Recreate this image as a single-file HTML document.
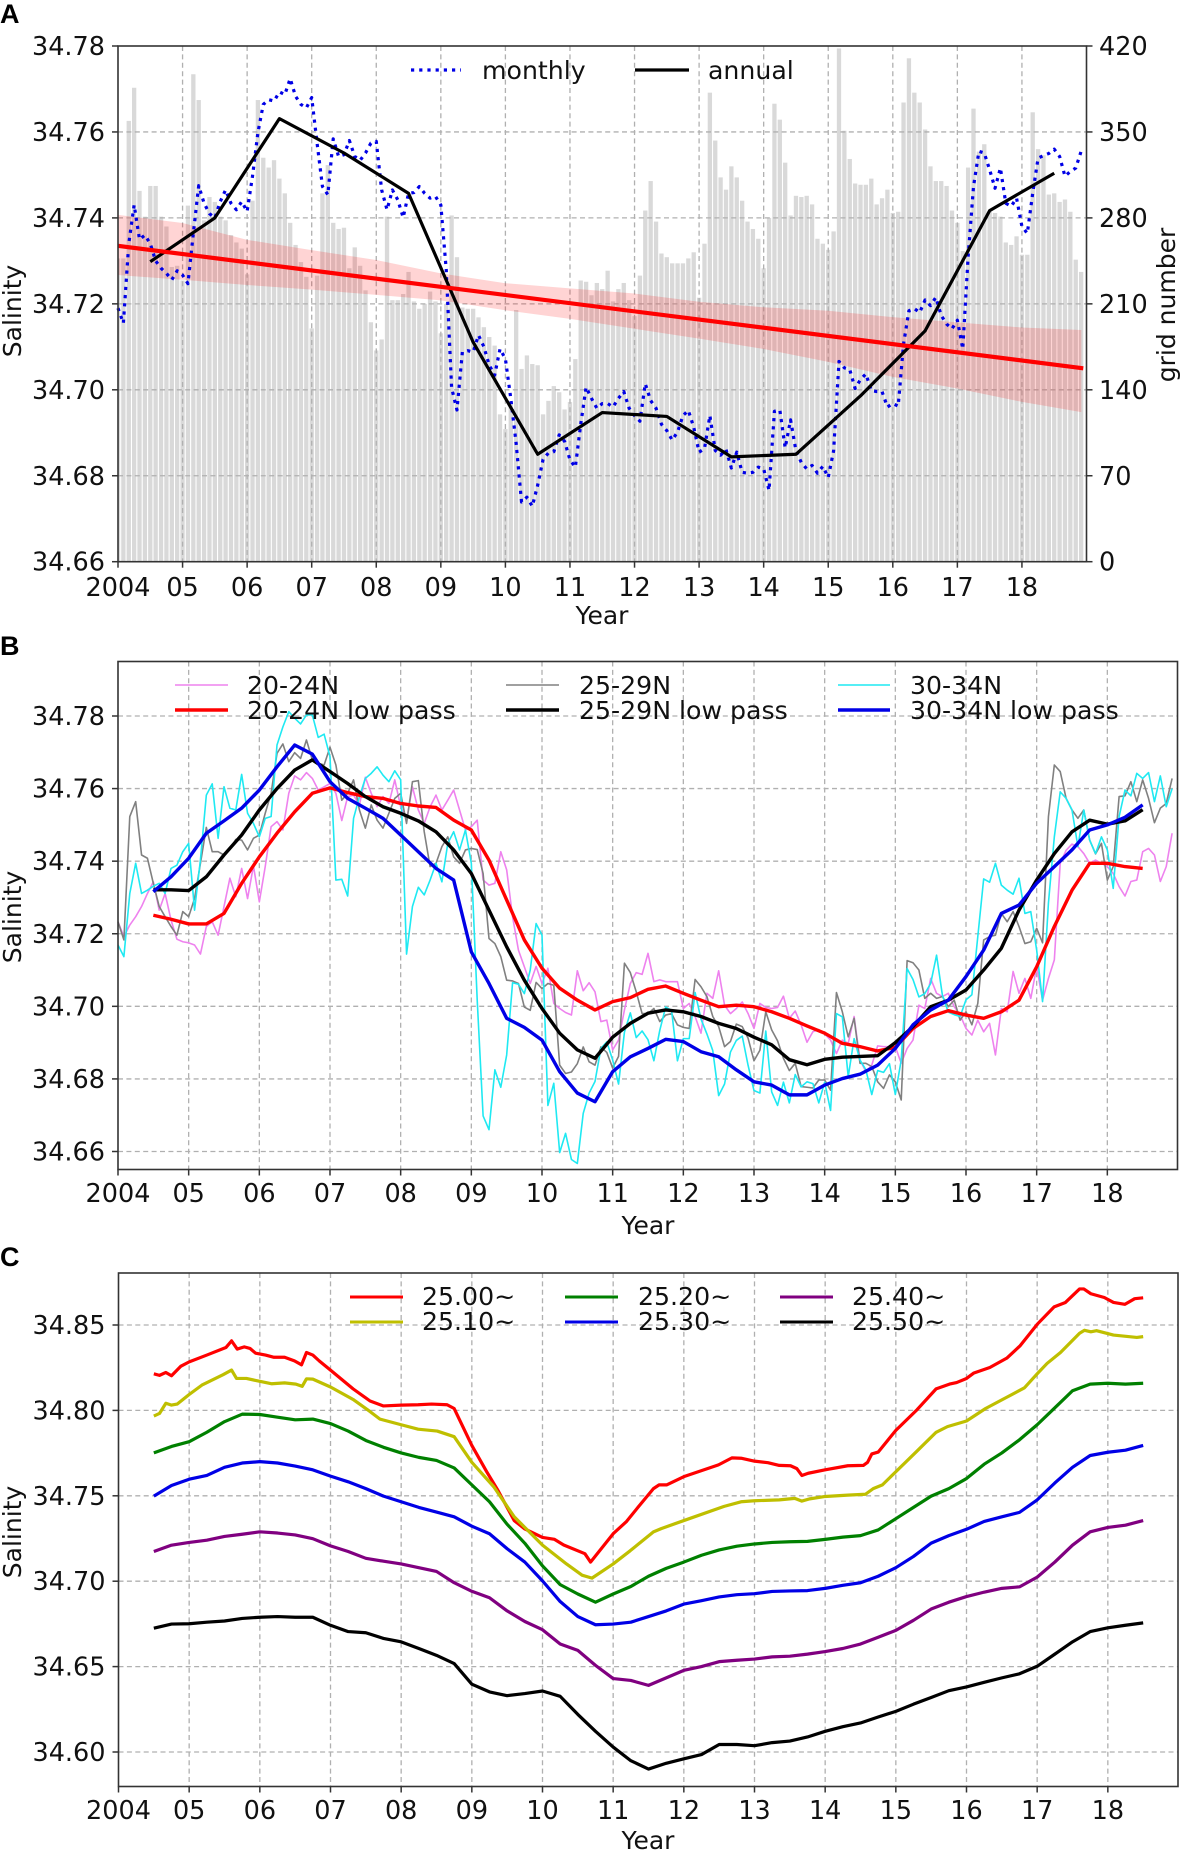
<!DOCTYPE html>
<html lang="en">
<head>
<meta charset="utf-8">
<title>Salinity time series</title>
<style>
html,body{margin:0;padding:0;background:#fff;}
svg{display:block;}
text{font-family:"DejaVu Sans","Liberation Sans",sans-serif;fill:#111;}
.panel-letter{font-family:"Liberation Sans",sans-serif;font-weight:bold;font-size:27px;fill:#000;}
.tick{font-size:25.5px;}
.title{font-size:25px;}
.leg{font-size:25.2px;}
</style>
</head>
<body>
<svg id="chart" xmlns="http://www.w3.org/2000/svg" width="1181" height="1851" viewBox="0 0 1181 1851">
<rect x="0" y="0" width="1181" height="1851" fill="#fff"/>
<defs>
<clipPath id="clipA"><rect x="118" y="46" width="968.5" height="515.7"/></clipPath>
</defs>

<text class="panel-letter" x="0" y="23">A</text>
<text class="panel-letter" x="0" y="655">B</text>
<text class="panel-letter" x="0" y="1266">C</text>

<g id="panelA"></g>
<g id="panelB"></g>
<g id="panelC"></g>

<!-- Panel A titles and legend -->
<text class="title" x="602" y="624" text-anchor="middle">Year</text>
<text class="title" transform="translate(21,311) rotate(-90)" text-anchor="middle">Salinity</text>
<text class="title" transform="translate(1175,305) rotate(-90)" text-anchor="middle">grid number</text>
<g>
<line x1="411" y1="70" x2="461" y2="70" stroke="#0000e6" stroke-width="3.2" stroke-dasharray="3.2 5"/>
<text class="leg" x="482" y="79">monthly</text>
<line x1="635" y1="70" x2="689" y2="70" stroke="#000" stroke-width="3.2"/>
<text class="leg" x="708" y="79">annual</text>
</g>

<!-- Panel B titles and legend -->
<text class="title" x="648" y="1234" text-anchor="middle">Year</text>
<text class="title" transform="translate(21,917) rotate(-90)" text-anchor="middle">Salinity</text>
<g>
<line x1="175" y1="685" x2="228" y2="685" stroke="#ee82ee" stroke-width="1.6"/>
<text class="leg" x="247" y="694">20-24N</text>
<line x1="175" y1="710" x2="228" y2="710" stroke="#f00" stroke-width="3.4"/>
<text class="leg" x="247" y="719">20-24N low pass</text>
<line x1="506" y1="685" x2="559" y2="685" stroke="#808080" stroke-width="1.6"/>
<text class="leg" x="579" y="694">25-29N</text>
<line x1="506" y1="710" x2="559" y2="710" stroke="#000" stroke-width="3.4"/>
<text class="leg" x="579" y="719">25-29N low pass</text>
<line x1="838" y1="685" x2="890" y2="685" stroke="#1fe9f2" stroke-width="1.6"/>
<text class="leg" x="910" y="694">30-34N</text>
<line x1="838" y1="710" x2="890" y2="710" stroke="#0000e6" stroke-width="3.4"/>
<text class="leg" x="910" y="719">30-34N low pass</text>
</g>

<!-- Panel C titles and legend -->
<text class="title" x="648" y="1849" text-anchor="middle">Year</text>
<text class="title" transform="translate(21,1532) rotate(-90)" text-anchor="middle">Salinity</text>
<g>
<line x1="350" y1="1297" x2="403" y2="1297" stroke="#f00" stroke-width="3"/>
<text class="leg" x="422" y="1305">25.00~</text>
<line x1="350" y1="1322" x2="403" y2="1322" stroke="#bfbf00" stroke-width="3"/>
<text class="leg" x="422" y="1330">25.10~</text>
<line x1="565" y1="1297" x2="618" y2="1297" stroke="#008000" stroke-width="3"/>
<text class="leg" x="638" y="1305">25.20~</text>
<line x1="565" y1="1322" x2="618" y2="1322" stroke="#0000e6" stroke-width="3"/>
<text class="leg" x="638" y="1330">25.30~</text>
<line x1="780" y1="1297" x2="833" y2="1297" stroke="#800080" stroke-width="3"/>
<text class="leg" x="852" y="1305">25.40~</text>
<line x1="780" y1="1322" x2="833" y2="1322" stroke="#000" stroke-width="3"/>
<text class="leg" x="852" y="1330">25.50~</text>
</g>
</svg>

<script>
/* ---------- shared tick labels ---------- */
const tickYears = [2004,2005,2006,2007,2008,2009,2010,2011,2012,2013,2014,2015,2016,2017,2018];
const tickYearLabels = ["2004","05","06","07","08","09","10","11","12","13","14","15","16","17","18"];

/* ---------- panel A data ---------- */
const ticksA = [34.66,34.68,34.70,34.72,34.74,34.76,34.78];
const ticksGrid = [0,70,140,210,280,350,420];
const gridNumber = [
247,247,359,386,302,281,306,306,281,273,240,241,
229,290,397,376,278,297,293,281,278,266,260,255,
234,294,376,329,321,327,312,300,276,258,244,232,
190,233,300,323,276,271,272,239,256,241,221,195,
172,181,281,213,213,218,236,212,206,210,220,212,
186,210,282,248,207,206,206,199,191,183,176,120,
108,130,205,157,168,161,160,120,131,143,138,124,
130,165,229,228,217,227,222,237,212,222,227,213,
200,233,286,310,277,251,248,243,243,243,247,252,
215,259,382,343,313,303,322,313,294,277,271,263,
239,280,373,360,325,282,298,297,298,291,263,259,
254,269,418,351,328,308,307,307,312,291,296,303,
284,285,374,410,382,374,352,322,310,310,306,286,
276,253,321,369,334,340,285,284,281,260,258,265,
250,250,366,336,331,299,300,293,295,285,246,236];
const monthlySalinity = [
34.719,34.7155,34.734,34.743,34.735,34.736,34.734,34.730,34.7283,34.7271,34.7256,34.7277,
34.7267,34.7247,34.7364,34.7475,34.7434,34.741,34.740,34.7438,34.7465,34.7434,34.7419,34.7438,
34.7415,34.7497,34.7598,34.7664,34.7675,34.7672,34.7693,34.7687,34.7724,34.7683,34.7664,34.7656,
34.768,34.7574,34.7473,34.7454,34.7584,34.7543,34.7547,34.758,34.7543,34.7534,34.7551,34.7574,
34.7578,34.7465,34.7419,34.7465,34.7442,34.7401,34.7457,34.7459,34.7473,34.7457,34.7446,34.745,
34.743,34.728,34.7005,34.6953,34.7088,34.7091,34.7088,34.7127,34.71,34.7057,34.7034,34.7095,
34.7072,34.698,34.6875,34.6739,34.675,34.6729,34.6778,34.6838,34.6853,34.6856,34.6895,34.688,
34.6837,34.682,34.692,34.7006,34.698,34.6957,34.6968,34.6968,34.696,34.698,34.6996,34.6957,
34.694,34.6927,34.7014,34.6975,34.6957,34.692,34.6905,34.6883,34.6902,34.694,34.6952,34.6913,
34.6855,34.6863,34.694,34.6859,34.6848,34.6861,34.6818,34.6855,34.6808,34.6806,34.6808,34.682,
34.6816,34.6766,34.695,34.6953,34.6865,34.693,34.6858,34.6831,34.6816,34.6824,34.6806,34.6822,
34.6796,34.6858,34.7066,34.7051,34.7047,34.7003,34.7024,34.7037,34.6998,34.6996,34.6996,34.696,
34.6968,34.6962,34.7107,34.7184,34.7189,34.718,34.7209,34.7196,34.7215,34.7173,34.7153,34.7142,
34.7162,34.7095,34.731,34.7473,34.7555,34.7551,34.7512,34.7469,34.7516,34.7434,34.7427,34.7446,
34.738,34.7364,34.7457,34.7539,34.7545,34.755,34.756,34.7543,34.7497,34.7508,34.7516,34.7555];
const annualYears = [2004.5,2005.5,2006.5,2007.5,2008.5,2009.5,2010.5,2011.5,2012.5,2013.5,2014.5,2015.5,2016.5,2017.5,2018.5];
const annualSalinity = [34.7298,34.74,34.7631,34.7551,34.7457,34.7111,34.685,34.6947,34.6938,34.6844,34.685,34.6986,34.7137,34.7417,34.7504];
const trendYears = [2004,2018.95];
const trendSalinity = [34.7335,34.705];
const bandYears = [2004,2005,2006,2007,2008,2009,2010,2011,2012,2013,2014,2015,2016,2017,2018,2018.92];
const bandUpper = [34.7407,34.7388,34.7349,34.7325,34.7302,34.7271,34.7248,34.7236,34.7224,34.7205,34.7192,34.7184,34.7169,34.7157,34.7145,34.7139];
const bandLower = [34.7267,34.7256,34.7244,34.7233,34.7221,34.7208,34.7185,34.7165,34.7142,34.7119,34.7095,34.7065,34.703,34.7003,34.6972,34.6948];

/* ---------- panel B data ---------- */
const ticksB = [34.66,34.68,34.70,34.72,34.74,34.76,34.78];
const raw2024 = [
34.7233,34.7192,34.7224,34.7247,34.7275,34.7311,34.7343,34.7265,34.7311,34.7238,34.7185,34.7178,
34.7175,34.7169,34.7144,34.722,34.7233,34.7196,34.7275,34.7353,34.7302,34.738,34.7297,34.7387,
34.7288,34.7385,34.7495,34.7509,34.7486,34.7587,34.7635,34.7624,34.7644,34.7628,34.7596,34.7605,
34.7614,34.7587,34.7512,34.7578,34.7582,34.7555,34.7631,34.7587,34.755,34.7578,34.7559,34.7624,
34.755,34.7513,34.7605,34.7541,34.7504,34.755,34.7582,34.7541,34.7568,34.7596,34.7541,34.7486,
34.7495,34.7513,34.7348,34.7334,34.7339,34.7426,34.7376,34.7247,34.7155,34.7109,34.7063,34.711,
34.7063,34.7105,34.7008,34.6994,34.6983,34.6976,34.7098,34.7043,34.7065,34.704,34.6958,34.6962,
34.688,34.6907,34.699,34.7063,34.7093,34.7088,34.7146,34.7068,34.7073,34.7068,34.7068,34.7068,
34.6994,34.7008,34.6972,34.6926,34.7036,34.7022,34.7098,34.7003,34.698,34.6994,34.7012,34.698,
34.6939,34.7008,34.6997,34.6994,34.6997,34.7028,34.6967,34.6987,34.6949,34.6901,34.693,34.6936,
34.6924,34.6907,34.687,34.6907,34.6898,34.6972,34.6852,34.682,34.6838,34.6891,34.6889,34.6889,
34.6889,34.6843,34.6884,34.6907,34.7003,34.6994,34.7077,34.7036,34.7027,34.7036,34.6999,34.6976,
34.6939,34.6921,34.6962,34.693,34.6953,34.6866,34.6994,34.6985,34.7096,34.7036,34.7077,34.7022,
34.7109,34.7017,34.7077,34.7128,34.7394,34.743,34.7447,34.744,34.7421,34.7394,34.7403,34.7394,
34.7385,34.7366,34.733,34.7304,34.7344,34.7348,34.7426,34.7435,34.7417,34.7344,34.7385,34.7477];
const raw2529 = [
34.7233,34.7183,34.7523,34.7564,34.7417,34.7408,34.7339,34.7275,34.7247,34.722,34.7196,34.7261,
34.7247,34.7297,34.7394,34.7493,34.7426,34.7426,34.7417,34.7432,34.746,34.7458,34.7431,34.7463,
34.7472,34.7532,34.7587,34.7697,34.7723,34.7674,34.7699,34.7683,34.7734,34.7679,34.767,34.7665,
34.7714,34.7665,34.7568,34.7587,34.7624,34.7541,34.7491,34.7555,34.7513,34.7491,34.7532,34.7573,
34.7587,34.7504,34.7619,34.7622,34.7481,34.7385,34.7394,34.744,34.7467,34.7412,34.7394,34.7431,
34.7435,34.7432,34.7366,34.7187,34.7173,34.7137,34.7072,34.707,34.7063,34.6998,34.6989,34.7066,
34.7049,34.7063,34.7058,34.6838,34.6815,34.6819,34.6842,34.6888,34.6847,34.6838,34.6888,34.6873,
34.683,34.6862,34.7119,34.7093,34.704,34.698,34.698,34.6994,34.6958,34.6976,34.698,34.6949,
34.6942,34.6939,34.7074,34.7054,34.7027,34.6972,34.6944,34.6889,34.6903,34.6951,34.6944,34.6912,
34.685,34.6879,34.6985,34.6935,34.6905,34.6857,34.6823,34.6843,34.6779,34.6777,34.6775,34.6797,
34.6797,34.6769,34.7038,34.6985,34.6916,34.6967,34.6843,34.6843,34.6834,34.6792,34.6774,34.6811,
34.6792,34.6742,34.7126,34.712,34.71,34.7022,34.7036,34.7022,34.7027,34.6999,34.7017,34.6962,
34.6985,34.6949,34.7008,34.7183,34.7192,34.7196,34.7256,34.7233,34.7261,34.722,34.7173,34.7178,
34.7215,34.7175,34.7523,34.7665,34.7647,34.7573,34.7541,34.7518,34.7541,34.7458,34.742,34.7449,
34.7348,34.7385,34.7578,34.758,34.7619,34.7564,34.7624,34.7573,34.7506,34.7546,34.7559,34.7628];
const raw3034 = [
34.7169,34.7137,34.7311,34.7394,34.7311,34.732,34.7331,34.7339,34.7311,34.738,34.7389,34.7426,
34.7449,34.7265,34.7404,34.7582,34.7613,34.7463,34.7605,34.7546,34.7541,34.7639,34.7532,34.7504,
34.7467,34.7518,34.7523,34.772,34.777,34.7812,34.7794,34.7778,34.7803,34.7803,34.7741,34.775,
34.7688,34.7348,34.735,34.7304,34.7518,34.7578,34.7628,34.7642,34.766,34.7637,34.7619,34.7649,
34.7624,34.7144,34.7275,34.7328,34.7307,34.7348,34.7394,34.7343,34.7449,34.7481,34.7431,34.7486,
34.7394,34.7017,34.6698,34.666,34.6825,34.6777,34.6866,34.7065,34.7061,34.7035,34.71,34.7228,
34.7196,34.6727,34.6788,34.6597,34.665,34.6578,34.6567,34.6705,34.6761,34.6793,34.6884,34.6902,
34.6852,34.6786,34.6929,34.6982,34.6914,34.6932,34.6908,34.685,34.6934,34.6998,34.6989,34.685,
34.6911,34.6911,34.7038,34.6965,34.6924,34.6878,34.6754,34.6786,34.6874,34.6906,34.6918,34.6837,
34.6768,34.6761,34.6932,34.6764,34.6727,34.6791,34.6734,34.6812,34.6778,34.6792,34.6787,34.6734,
34.6791,34.6713,34.698,34.6971,34.6806,34.6911,34.6852,34.6825,34.6757,34.6823,34.6818,34.6842,
34.6757,34.6852,34.7104,34.7074,34.7026,34.7035,34.7063,34.7141,34.703,34.6984,34.6977,34.6972,
34.7018,34.7032,34.7192,34.7351,34.7342,34.7394,34.7334,34.732,34.7309,34.7353,34.7256,34.7261,
34.7155,34.7013,34.7285,34.7467,34.7591,34.7573,34.7541,34.744,34.7541,34.7458,34.7421,34.7467,
34.7431,34.7325,34.7523,34.7596,34.758,34.7642,34.7628,34.7644,34.7564,34.7635,34.755,34.76];
const lowPass2024 = [34.7251,34.724,34.7227,34.7227,34.7256,34.7339,34.7412,34.7477,34.7536,34.7587,34.7602,34.7589,34.7578,34.7573,34.7559,34.7552,34.7548,34.7513,34.7486,34.7403,34.7293,34.7183,34.7105,34.705,34.7017,34.699,34.7013,34.7024,34.7047,34.7056,34.7036,34.7017,34.6999,34.7003,34.6999,34.6985,34.6967,34.6946,34.6926,34.6898,34.6889,34.6877,34.6887,34.6939,34.6972,34.6988,34.6976,34.6967,34.6985,34.7017,34.7109,34.722,34.732,34.7394,34.7394,34.7385,34.738];
const lowPass2529 = [34.7321,34.7321,34.7319,34.7357,34.7417,34.7472,34.7541,34.76,34.7651,34.7679,34.7647,34.7614,34.7578,34.755,34.7532,34.7511,34.7481,34.7431,34.7366,34.7265,34.7164,34.7072,34.6994,34.6926,34.688,34.6857,34.6915,34.6953,34.6981,34.699,34.6985,34.6972,34.6953,34.6939,34.6915,34.6894,34.6853,34.6839,34.6854,34.686,34.6862,34.6864,34.69,34.6944,34.6999,34.7017,34.7045,34.71,34.716,34.7265,34.7348,34.7421,34.7481,34.7513,34.7502,34.7511,34.7542];
const lowPass3034 = [34.7316,34.7357,34.7408,34.7477,34.7511,34.7546,34.7596,34.766,34.772,34.7695,34.7619,34.7573,34.7546,34.7518,34.7472,34.7426,34.738,34.7348,34.715,34.7063,34.6967,34.6942,34.6907,34.682,34.6761,34.6737,34.682,34.6861,34.6884,34.6909,34.6903,34.6875,34.6861,34.6825,34.6792,34.6783,34.6756,34.6756,34.6783,34.6801,34.6813,34.6838,34.6884,34.6949,34.699,34.7017,34.7082,34.7155,34.7256,34.7279,34.7339,34.7385,34.7431,34.7486,34.75,34.7521,34.7555];

/* ---------- panel C data ---------- */
const ticksC = [34.60,34.65,34.70,34.75,34.80,34.85];
const isoRedYears = [2004.5,2004.58,2004.67,2004.75,2004.88,2005,2005.25,2005.52,2005.6,2005.68,2005.78,2005.86,2005.94,2006.08,2006.2,2006.35,2006.49,2006.59,2006.66,2006.75,2006.84,2007,2007.32,2007.56,2007.75,2008,2008.24,2008.43,2008.65,2008.75,2009,2009.21,2009.37,2009.6,2009.75,2010,2010.17,2010.3,2010.6,2010.68,2011,2011.19,2011.35,2011.57,2011.65,2011.76,2012,2012.49,2012.68,2012.81,2013,2013.19,2013.35,2013.51,2013.6,2013.67,2013.76,2014,2014.32,2014.54,2014.6,2014.66,2014.75,2015,2015.3,2015.57,2015.76,2015.86,2016,2016.1,2016.33,2016.57,2016.76,2017,2017.24,2017.4,2017.6,2017.66,2017.76,2017.95,2018.08,2018.24,2018.38,2018.5];
const iso2500 = [34.8214,34.8205,34.8222,34.8203,34.8258,34.8284,34.8324,34.8368,34.8407,34.8359,34.8372,34.8363,34.8335,34.8324,34.8311,34.8311,34.829,34.8267,34.8339,34.8324,34.829,34.8236,34.8126,34.8055,34.8026,34.8031,34.8033,34.8037,34.8033,34.8011,34.7795,34.7641,34.7531,34.7355,34.7306,34.7256,34.7245,34.7212,34.7161,34.7112,34.7278,34.735,34.7432,34.7542,34.7564,34.7564,34.7612,34.7681,34.7722,34.772,34.7703,34.7694,34.7678,34.7676,34.7659,34.7619,34.7632,34.7652,34.7676,34.7678,34.7696,34.7745,34.7756,34.7883,34.8004,34.8126,34.8154,34.8163,34.8187,34.8218,34.8251,34.8306,34.8379,34.8504,34.8606,34.8632,34.8711,34.8711,34.8683,34.8661,34.8632,34.8621,34.8654,34.8659];
const isoYellowYears = [2004.5,2004.58,2004.67,2004.75,2004.83,2005,2005.18,2005.48,2005.6,2005.67,2005.81,2006,2006.17,2006.35,2006.51,2006.6,2006.66,2006.75,2007,2007.32,2007.56,2007.7,2008,2008.24,2008.51,2008.75,2009,2009.31,2009.6,2010,2010.34,2010.56,2010.7,2011,2011.24,2011.57,2011.68,2012,2012.57,2012.81,2013,2013.35,2013.57,2013.67,2013.78,2014,2014.32,2014.57,2014.68,2014.81,2015,2015.3,2015.57,2015.73,2016,2016.27,2016.57,2016.82,2017,2017.14,2017.33,2017.6,2017.67,2017.76,2017.84,2018.08,2018.41,2018.5];
const iso2510 = [34.7967,34.7982,34.8042,34.8031,34.8037,34.8093,34.8148,34.8209,34.8236,34.8187,34.8187,34.817,34.8156,34.8161,34.8154,34.8141,34.8185,34.8183,34.8137,34.8064,34.7993,34.7949,34.7916,34.789,34.7879,34.7846,34.7696,34.7553,34.7377,34.7211,34.7101,34.7035,34.7018,34.7101,34.7178,34.7289,34.7308,34.7355,34.7438,34.7465,34.7471,34.7476,34.7485,34.7469,34.7482,34.7496,34.7504,34.7509,34.7542,34.7564,34.7641,34.7762,34.7872,34.7905,34.7938,34.8011,34.8077,34.8132,34.8214,34.8275,34.8339,34.8452,34.8469,34.846,34.8467,34.8441,34.8427,34.8432];
const iso2520 = [34.7751,34.7789,34.7817,34.7872,34.7934,34.7978,34.7976,34.796,34.7945,34.7949,34.7923,34.7879,34.7824,34.7784,34.7751,34.7725,34.7707,34.7663,34.7564,34.7465,34.7333,34.7222,34.709,34.698,34.6925,34.6877,34.6925,34.6969,34.7029,34.7075,34.7112,34.7152,34.7183,34.7205,34.7218,34.7227,34.7231,34.7233,34.7245,34.7258,34.7267,34.73,34.7366,34.7432,34.7498,34.7542,34.7601,34.7685,34.7751,34.7828,34.7916,34.8015,34.8115,34.8154,34.8159,34.8154,34.8159];
const iso2530 = [34.7498,34.756,34.7597,34.7619,34.7667,34.7692,34.77,34.7692,34.7674,34.7652,34.7615,34.7582,34.7542,34.7498,34.7465,34.7432,34.7405,34.7377,34.7322,34.7278,34.719,34.7112,34.7002,34.6881,34.6793,34.6745,34.6749,34.676,34.6793,34.6826,34.6866,34.6886,34.6908,34.6921,34.6927,34.694,34.6943,34.6945,34.6958,34.6976,34.6991,34.7029,34.7079,34.7145,34.7223,34.7267,34.7304,34.735,34.7377,34.7403,34.7476,34.7575,34.7667,34.7736,34.7755,34.7767,34.7795];
const iso2540 = [34.7174,34.7211,34.7227,34.724,34.7262,34.7275,34.7289,34.7282,34.7271,34.7249,34.7207,34.7174,34.7134,34.7117,34.7101,34.7079,34.7057,34.6991,34.6941,34.6903,34.6826,34.6764,34.6716,34.6632,34.6595,34.6507,34.643,34.6419,34.639,34.6434,34.6478,34.65,34.6529,34.6537,34.6544,34.6557,34.6561,34.6573,34.6588,34.6606,34.6632,34.6672,34.6712,34.6771,34.6837,34.6877,34.691,34.6936,34.6958,34.6967,34.7024,34.7112,34.7211,34.7289,34.7315,34.7328,34.7355];
const iso2550 = [34.6725,34.6749,34.6751,34.676,34.6767,34.6782,34.6789,34.6793,34.6789,34.6789,34.6742,34.6705,34.6698,34.6665,34.6645,34.6606,34.6566,34.6518,34.6397,34.6352,34.633,34.6342,34.6357,34.6326,34.622,34.6121,34.6029,34.5949,34.59,34.5934,34.596,34.5985,34.6044,34.6044,34.6037,34.6055,34.6064,34.6088,34.6121,34.6148,34.617,34.6205,34.6238,34.628,34.6319,34.6359,34.6381,34.6408,34.6434,34.6458,34.6502,34.6573,34.6645,34.6705,34.6727,34.6742,34.6756];

/* ---------- axis functions ---------- */
function xA(t){ return 118 + (t-2004)/15*968.5; }
function yA(v){ return 46 + (34.78-v)/0.12*515.7; }
function yGrid(n){ return 561.7 - n/420*515.7; }
function xB(t){ return 118 + (t-2004)/15*1060; }
function yB(v){ return 716 + (34.78-v)/0.12*435.5; }
function xC(t){ return 118.5 + (t-2004)/15*1060; }
function yC(v){ return 1325 + (34.85-v)/0.25*427; }

function monthTime(i){ return 2004 + i/12; }
function quarterTime(i){ return 2004.5 + i/4; }

/* ---------- svg helpers ---------- */
const NS = 'http://www.w3.org/2000/svg';
function make(parent, tag, attrs){
  const el = document.createElementNS(NS, tag);
  for (const k in attrs) el.setAttribute(k, attrs[k]);
  parent.appendChild(el);
  return el;
}
function pathFrom(times, values, fx, fy){
  let d = '';
  for (let i = 0; i < values.length; i++){
    d += (i ? 'L' : 'M') + fx(times[i]).toFixed(2) + ' ' + fy(values[i]).toFixed(2);
  }
  return d;
}
function seriesLine(parent, times, values, fx, fy, stroke, width, name, dash){
  const a = {d: pathFrom(times, values, fx, fy), fill: 'none', stroke: stroke, 'stroke-width': width, 'stroke-linejoin': 'round'};
  if (dash) a['stroke-dasharray'] = dash;
  const el = make(parent, 'path', a);
  
  
  return el;
}
function frame(parent, left, right, top, bottom, fx, fy, yTicks, yDecimals, suffix){
  const grid = make(parent, 'g', {stroke: '#b0b0b0', 'stroke-width': 1.3, 'stroke-dasharray': '5 3.4'});
  
  
  tickYears.forEach(function(t){
    if (t === 2004) return;
    const ln = make(grid, 'line', {x1: fx(t), x2: fx(t), y1: top, y2: bottom});
    
    
  });
  yTicks.forEach(function(v){
    const y = fy(v);
    if (Math.abs(y-top) < 1 || Math.abs(y-bottom) < 1) return;
    const ln = make(grid, 'line', {x1: left, x2: right, y1: y, y2: y});
    
    
  });
  return grid;
}
function axes(parent, left, right, top, bottom, fx, fy, yTicks, yDecimals, labelY, suffix){
  const box = make(parent, 'rect', {x: left, y: top, width: right-left, height: bottom-top, fill: 'none', stroke: '#333', 'stroke-width': 1.6});
  
  
  tickYears.forEach(function(t, i){
    const x = fx(t);
    const tk = make(parent, 'line', {x1: x, x2: x, y1: bottom, y2: bottom+6, stroke: '#333', 'stroke-width': 1.5});
    
    
    const tx = make(parent, 'text', {x: x, y: labelY, 'text-anchor': 'middle', 'class': 'tick'});
    
    
    tx.textContent = tickYearLabels[i];
  });
  yTicks.forEach(function(v){
    const y = fy(v);
    const tk = make(parent, 'line', {x1: left-6, x2: left, y1: y, y2: y, stroke: '#333', 'stroke-width': 1.5});
    
    
    const tx = make(parent, 'text', {x: left-13, y: y+9, 'text-anchor': 'end', 'class': 'tick'});
    
    
    tx.textContent = v.toFixed(yDecimals);
  });
}

/* ---------- panel A ---------- */
const pA = document.getElementById('panelA');
const barsA = make(pA, 'g', {'clip-path': 'url(#clipA)', fill: '#d9d9d9'});


gridNumber.forEach(function(n, i){
  const w = xA(2004 + 0.8/12) - xA(2004);
  const b = make(barsA, 'rect', {x: xA(monthTime(i)) - w/2, y: yGrid(n), width: w, height: yGrid(0) - yGrid(n)});
  
  
});
frame(pA, 118, 1086.5, 46, 561.7, xA, yA, ticksA, 2, 'a');
let bandD = '';
bandYears.forEach(function(t, i){ bandD += (i ? 'L' : 'M') + xA(t).toFixed(2) + ' ' + yA(bandUpper[i]).toFixed(2); });
for (let i = bandYears.length - 1; i >= 0; i--){ bandD += 'L' + xA(bandYears[i]).toFixed(2) + ' ' + yA(bandLower[i]).toFixed(2); }
const band = make(pA, 'path', {d: bandD + 'Z', fill: '#ff0000', 'fill-opacity': 0.17, stroke: 'none'});


seriesLine(pA, monthlySalinity.map(function(_, i){ return monthTime(i); }), monthlySalinity, xA, yA, '#0000e6', 3.2, 'monthly-salinity-line', '3.2 5');
seriesLine(pA, annualYears, annualSalinity, xA, yA, '#000', 3.2, 'annual-salinity-line');
seriesLine(pA, trendYears, trendSalinity, xA, yA, '#f00', 4.2, 'salinity-trend-line');
axes(pA, 118, 1086.5, 46, 561.7, xA, yA, ticksA, 2, 596, 'a');
ticksGrid.forEach(function(n){
  const y = yGrid(n);
  const tk = make(pA, 'line', {x1: 1086.5, x2: 1092.5, y1: y, y2: y, stroke: '#333', 'stroke-width': 1.5});
  
  
  const tx = make(pA, 'text', {x: 1099, y: y+9, 'class': 'tick'});
  
  
  tx.textContent = String(n);
});

/* ---------- panel B ---------- */
const pB = document.getElementById('panelB');
frame(pB, 118, 1177.5, 661.5, 1169.5, xB, yB, ticksB, 2, 'b');
const monthsB = raw2024.map(function(_, i){ return monthTime(i); });
const quartersB = lowPass2024.map(function(_, i){ return quarterTime(i); });
seriesLine(pB, monthsB, raw2024, xB, yB, '#ee82ee', 1.6, 'raw-20-24n-line');
seriesLine(pB, monthsB, raw2529, xB, yB, '#808080', 1.6, 'raw-25-29n-line');
seriesLine(pB, monthsB, raw3034, xB, yB, '#1fe9f2', 1.6, 'raw-30-34n-line');
seriesLine(pB, quartersB, lowPass2024, xB, yB, '#f00', 3.4, 'low-pass-20-24n-line');
seriesLine(pB, quartersB, lowPass2529, xB, yB, '#000', 3.4, 'low-pass-25-29n-line');
seriesLine(pB, quartersB, lowPass3034, xB, yB, '#0000e6', 3.4, 'low-pass-30-34n-line');
axes(pB, 118, 1177.5, 661.5, 1169.5, xB, yB, ticksB, 2, 1202, 'b');

/* ---------- panel C ---------- */
const pC = document.getElementById('panelC');
frame(pC, 118.5, 1178, 1273, 1786.5, xC, yC, ticksC, 2, 'c');
const quartersC = iso2520.map(function(_, i){ return quarterTime(i); });
seriesLine(pC, isoRedYears, iso2500, xC, yC, '#f00', 3.2, 'isopycnal-25-00-line');
seriesLine(pC, isoYellowYears, iso2510, xC, yC, '#bfbf00', 3.2, 'isopycnal-25-10-line');
seriesLine(pC, quartersC, iso2520, xC, yC, '#008000', 3.2, 'isopycnal-25-20-line');
seriesLine(pC, quartersC, iso2530, xC, yC, '#0000e6', 3.2, 'isopycnal-25-30-line');
seriesLine(pC, quartersC, iso2540, xC, yC, '#800080', 3.2, 'isopycnal-25-40-line');
seriesLine(pC, quartersC, iso2550, xC, yC, '#000', 3.2, 'isopycnal-25-50-line');
axes(pC, 118.5, 1178, 1273, 1786.5, xC, yC, ticksC, 2, 1819, 'c');
</script>
</body>
</html>
